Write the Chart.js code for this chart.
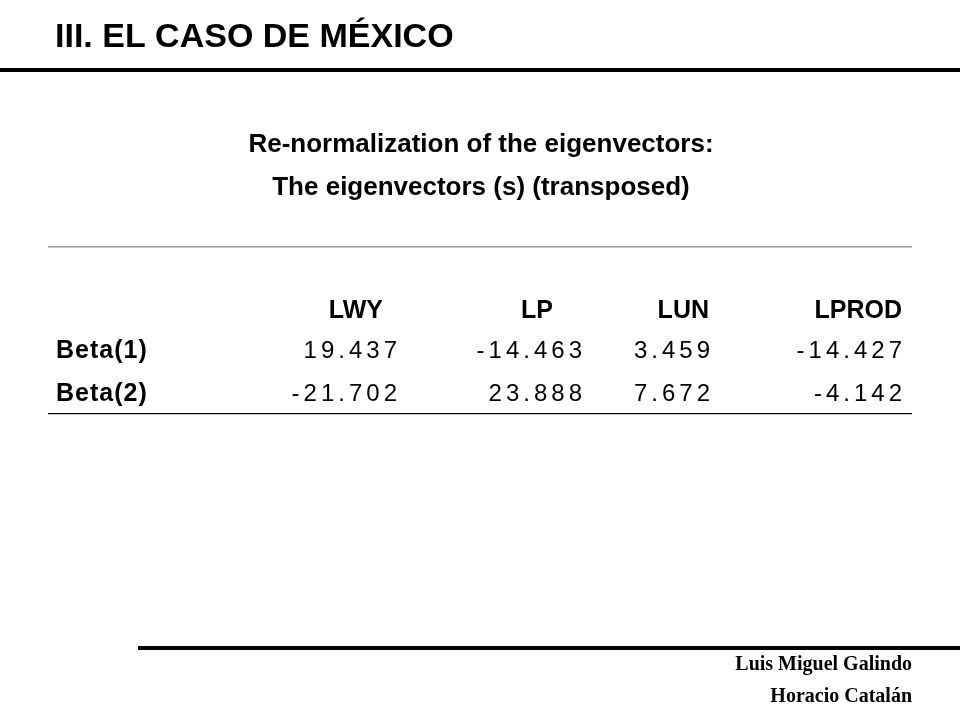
<!DOCTYPE html>
<html><head><meta charset="utf-8">
<script src="https://cdn.jsdelivr.net/npm/chart.js@4"></script>
<style>html,body{margin:0;padding:0;background:#fff}#w{width:960px;height:720px}</style>
</head><body><div id="w"><canvas id="c"></canvas></div>
<script>
const slideTitle = "III. EL CASO DE MÉXICO";
const subtitles = ["Re-normalization of the eigenvectors:", "The eigenvectors (s) (transposed)"];
const columns = ["LWY", "LP", "LUN", "LPROD"];
const rows = ["Beta(1)", "Beta(2)"];
const beta1 = [19.437, -14.463, 3.459, -14.427];
const beta2 = [-21.702, 23.888, 7.672, -4.142];
const authors = ["Luis Miguel Galindo", "Horacio Catalán"];

// layout (positions in scale units = page pixels)
const headRight = [383, 553, 709, 902];
const colRight = [397, 582, 710, 902];
const rowY = [311, 351, 394];
const series = [beta1, beta2];

const pts = [];
series.forEach((s, r) => s.forEach((v, c) => pts.push({x: colRight[c], y: rowY[r + 1], v})));

const slidePlugin = {
  id: 'slide',
  afterDraw(chart) {
    const ctx = chart.ctx, xs = chart.scales.x, ys = chart.scales.y;
    const X = v => xs.getPixelForValue(v), Y = v => ys.getPixelForValue(v);
    ctx.save();
    ctx.textBaseline = 'middle';
    ctx.fillStyle = '#000';
    ctx.font = 'bold 34px "Liberation Sans", Arial, sans-serif';
    ctx.textAlign = 'left';
    ctx.fillText(slideTitle, X(55), Y(38));
    ctx.fillRect(X(0), Y(68), X(960) - X(0), 4);
    ctx.font = 'bold 26px "Liberation Sans", Arial, sans-serif';
    ctx.textAlign = 'center';
    ctx.fillText(subtitles[0], X(481), Y(145));
    ctx.fillText(subtitles[1], X(481), Y(188));
    ctx.fillStyle = '#999';
    ctx.fillRect(X(48), Y(246), X(912) - X(48), 1.5);
    ctx.fillStyle = '#000';
    ctx.fillRect(X(48), Y(413), X(912) - X(48), 1.2);
    ctx.font = 'bold 25px "Liberation Sans", Arial, sans-serif';
    ctx.textAlign = 'right';
    columns.forEach((c, i) => ctx.fillText(c, X(headRight[i]), Y(rowY[0])));
    ctx.textAlign = 'left';
    ctx.letterSpacing = '1px';
    rows.forEach((r, i) => ctx.fillText(r, X(56), Y(rowY[i + 1])));
    ctx.font = '24px "Liberation Sans", Arial, sans-serif';
    ctx.letterSpacing = '4px';
    ctx.textAlign = 'right';
    chart.data.datasets[0].data.forEach(p => ctx.fillText(p.v.toFixed(3), X(p.x) + 4, Y(p.y)));
    ctx.letterSpacing = '0px';
    ctx.fillRect(X(138), Y(646), X(960) - X(138), 4);
    ctx.font = 'bold 20px "Liberation Serif", "Times New Roman", serif';
    ctx.fillText(authors[0], X(912), Y(665));
    ctx.fillText(authors[1], X(912), Y(697));
    ctx.restore();
  }
};

new Chart(document.getElementById('c'), {
  type: 'scatter',
  data: {datasets: [{data: pts, pointRadius: 0, pointHoverRadius: 0}]},
  options: {
    responsive: true, maintainAspectRatio: false, animation: false,
    layout: {padding: 0},
    plugins: {legend: {display: false}, tooltip: {enabled: false}},
    scales: {
      x: {type: 'linear', min: 0, max: 960, display: false},
      y: {type: 'linear', min: 0, max: 720, reverse: true, display: false}
    }
  },
  plugins: [slidePlugin]
});
</script></body></html>
